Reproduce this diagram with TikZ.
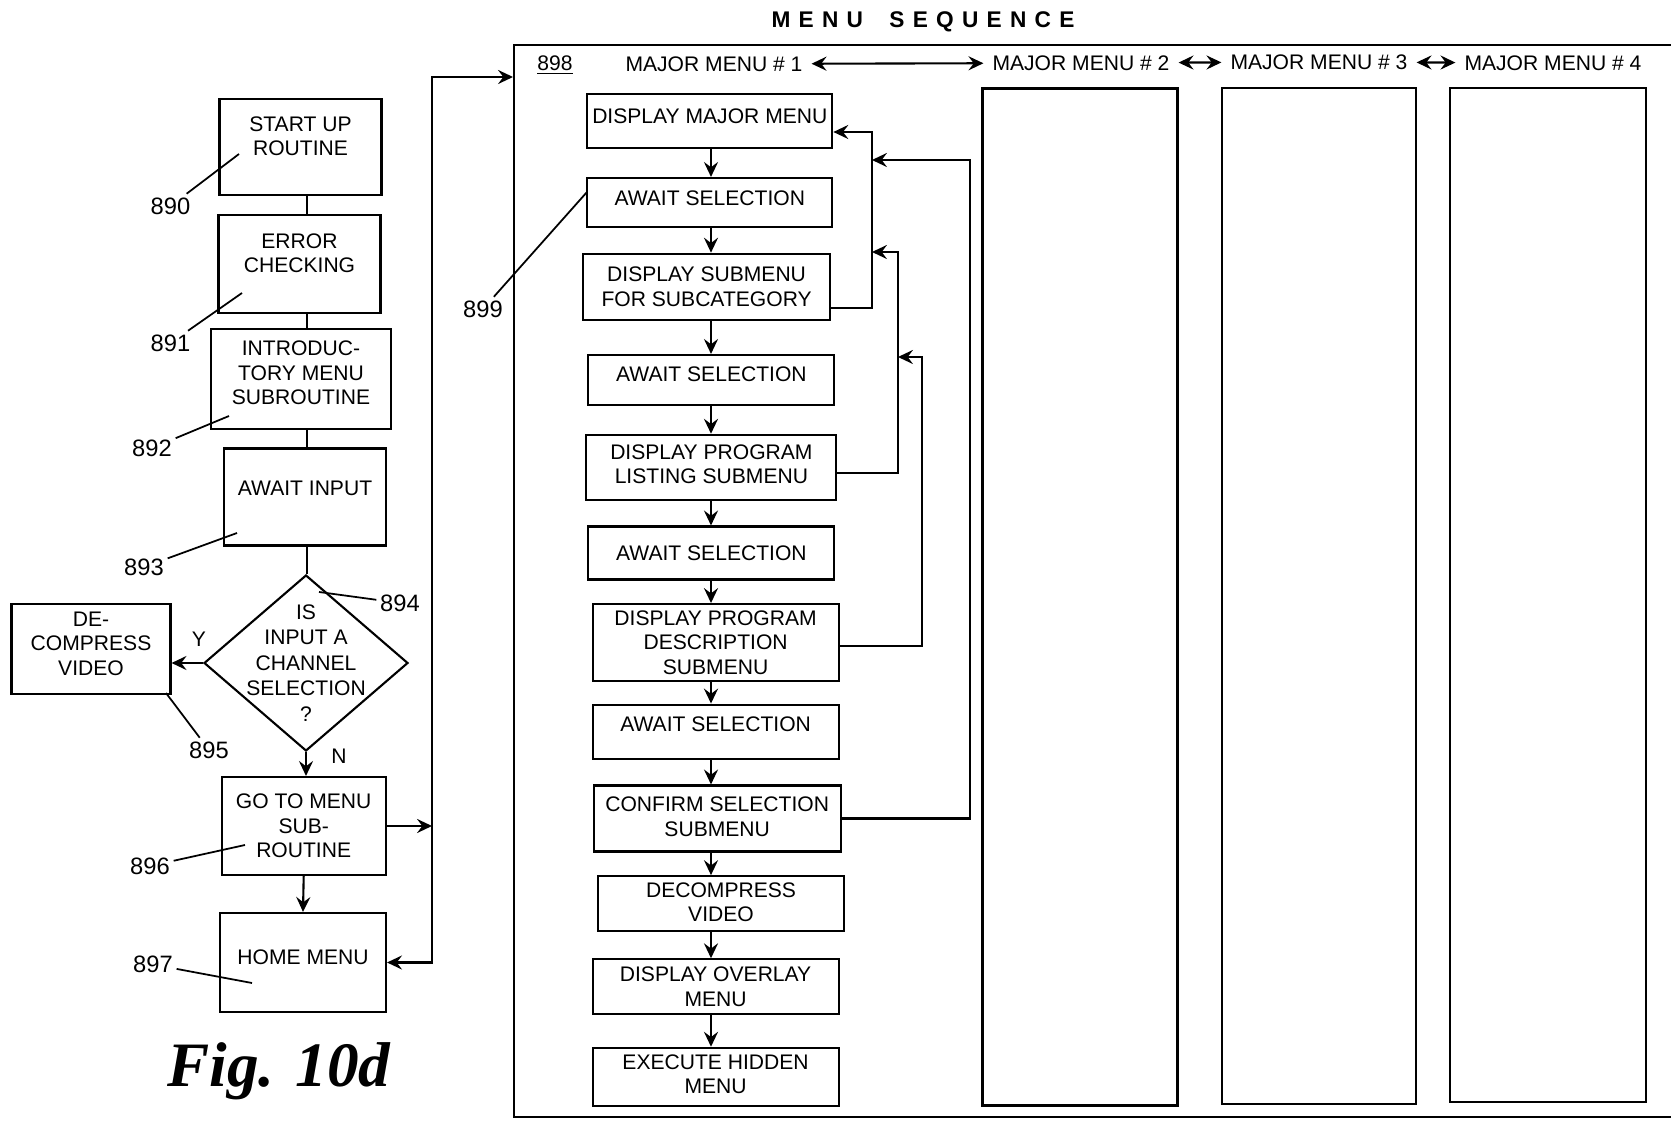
\documentclass[tikz,border=0pt]{standalone}
\usepackage{fontspec}
\setmainfont{Liberation Sans}
\newfontfamily\figfont{Liberation Serif}
\usetikzlibrary{arrows.meta, shapes.geometric, calc}

\begin{document}
\begin{tikzpicture}[
  x=0.02cm, y=-0.02cm,
  every node/.style={font=\fontsize{12}{14}\selectfont, inner sep=0},
  box/.style 2 args={draw, line width=1.2pt, align=center, minimum width=#1*0.02cm, minimum height=#2*0.02cm},
  up/.style={text depth=#1},
  dia/.style={diamond, draw, line width=1.2pt, minimum width=204*0.02cm, minimum height=176*0.02cm, inner sep=0},
  col/.style 2 args={draw, line width=1.2pt, minimum width=#1*0.02cm, minimum height=#2*0.02cm},
  num/.style={font=\fontsize{13.5}{16}\selectfont, inner sep=2pt},
  head/.style={inner sep=5pt},
  title/.style={font=\fontsize{12.9}{15}\selectfont\bfseries},
  wire/.style={line width=1.2pt},
  flow/.style={line width=1.2pt, -{Stealth[length=8.5pt, width=8pt, inset=3pt]}},
  dflow/.style={line width=1.2pt, {Stealth[length=8.5pt, width=8pt, inset=3pt]}-{Stealth[length=8.5pt, width=8pt, inset=3pt]}},
  lead/.style={line width=1pt},
]
  \useasboundingbox (0,0) rectangle (1671,1121);

  % --- left flow chart ---
  \node[box={162}{96}, up=12.5pt] (start) at (300.5,147) {START UP\\ROUTINE};
  \node[box={162}{98}, up=12.5pt] (err) at (299.5,264) {ERROR\\CHECKING};
  \node[box={180}{100}, up=7pt] (intro) at (301,379) {INTRODUC-\\TORY MENU\\SUBROUTINE};
  \node[box={162}{97}, up=10pt] (await) at (305,497) {AWAIT INPUT};
  \node[dia, label={[align=center, font=\fontsize{12}{14.5}\selectfont]center:IS\\INPUT A\\CHANNEL\\SELECTION\\?}] (chan) at (306,663) {};
  \node[box={159}{90}, up=6pt] (decomp) at (91,649) {DE-\\COMPRESS\\VIDEO};
  \node[box={164}{98}] (goto) at (303.7,826) {GO TO MENU\\SUB-\\ROUTINE};
  \node[box={166}{99}, up=6pt] (home) at (303,962.5) {HOME MENU};

  \coordinate (axL) at (307,0);
  \foreach \a/\b in {start/err, err/intro, intro/await, await/chan}
    \draw[wire] (\a.south -| axL) -- (\b.north -| axL);
  \draw[flow] (chan.south) -- (chan.south |- goto.north);
  \draw[flow] (goto.south) -- (home.north);
  \draw[flow] (chan.west) -- (decomp.east |- chan.west);
  \node (yes) at (199,639) {Y};
  \node (no) at (339,756) {N};

  % --- bus to the menu sequence ---
  \coordinate (busTop) at (432,77);
  \coordinate (frameIn) at (513,77);
  \draw[dflow] (home.east) -| (busTop) -- (frameIn);
  \draw[flow] (goto.east) -- (goto.east -| busTop);

  % --- reference numerals ---
  \coordinate (p890) at (239,154);
  \coordinate (p891) at (242,293);
  \coordinate (p892) at (229,416);
  \coordinate (p893) at (237,533);
  \coordinate (p894) at (319,592);
  \coordinate (p895) at (166,693);
  \coordinate (p896) at (245,845);
  \coordinate (p897) at (252,983);
  \coordinate (p899) at (587,192);
  \node[num] (l890) at (170.5,206) {890};
  \node[num] (l891) at (170.5,343) {891};
  \node[num] (l892) at (152,448) {892};
  \node[num] (l893) at (144,567) {893};
  \node[num] (l894) at (400,603) {894};
  \node[num] (l895) at (209,750) {895};
  \node[num] (l896) at (150,866) {896};
  \node[num] (l897) at (153,964.5) {897};
  \node[num] (l899) at (483,309) {899};
  \foreach \n in {890,891,892,893,894,895,896,897,899}
    \draw[lead] (l\n) -- (p\n);

  % --- menu sequence frame and header ---
  \node[title] (ttl) at (923,22) {M\kern4.7pt E\kern4.7pt N\kern4.7pt U\hspace{15pt}S\kern4.7pt E\kern4.7pt Q\kern4.7pt U\kern4.7pt E\kern4.7pt N\kern4.7pt C\kern4.7pt E};
  \coordinate (fTR) at (1671,45);
  \coordinate (fTL) at (513.6,45);
  \coordinate (fBL) at (513.6,1117);
  \coordinate (fBR) at (1671,1117);
  \draw[wire] (fTR) -- (fTL) -- (fBL) -- (fBR);
  \node (n898) at (555,65) {\underline{898}};
  \node[head] (mm1) at (714,64) {MAJOR MENU \# 1};
  \node[head] (mm2) at (1081,63) {MAJOR MENU \# 2};
  \node[head] (mm3) at (1319,62) {MAJOR MENU \# 3};
  \node[head] (mm4) at (1553,63) {MAJOR MENU \# 4};
  \draw[dflow] (mm1) -- (mm2);
  \draw[dflow] (mm2) -- (mm3);
  \draw[dflow] (mm3) -- (mm4);
  \node[col={195}{1017}] (col2) at (1080,597) {};
  \node[col={194}{1016}] (col3) at (1319,596) {};
  \node[col={196}{1014}] (col4) at (1548,595) {};

  % --- major menu # 1 steps ---
  \node[box={245}{54}, up=5.5pt] (dmm) at (709.8,121) {DISPLAY MAJOR MENU};
  \node[box={245}{49}, up=5pt] (as1) at (709.8,202.5) {AWAIT SELECTION};
  \node[box={247}{66}] (dss) at (706.6,286.7) {DISPLAY SUBMENU\\FOR SUBCATEGORY};
  \node[box={246}{50}, up=6.5pt] (as2) at (711.4,380) {AWAIT SELECTION};
  \node[box={250}{65}, up=3.5pt] (dpl) at (711.4,467.3) {DISPLAY PROGRAM\\LISTING SUBMENU};
  \node[box={246}{53}] (as3) at (711.4,553) {AWAIT SELECTION};
  \node[box={246}{77}] (dpd) at (715.6,642.6) {DISPLAY PROGRAM\\DESCRIPTION\\SUBMENU};
  \node[box={246}{54}, up=9pt] (as4) at (715.6,731.6) {AWAIT SELECTION};
  \node[box={247}{66}, up=2pt] (css) at (717.2,818.5) {CONFIRM SELECTION\\SUBMENU};
  \node[box={246}{55}, up=2pt] (dv) at (721,903.7) {DECOMPRESS\\VIDEO};
  \node[box={246}{55}] (dom) at (715.6,986.8) {DISPLAY OVERLAY\\MENU};
  \node[box={246}{58}, up=3pt] (ehm) at (715.6,1076.8) {EXECUTE HIDDEN\\MENU};

  \coordinate (axM) at (711,0);
  \foreach \a/\b in {dmm/as1, as1/dss, dss/as2, as2/dpl, dpl/as3, as3/dpd, dpd/as4, as4/css, css/dv, dv/dom, dom/ehm}
    \draw[flow] (\a.south -| axM) -- (\b.north -| axM);

  % --- return paths ---
  \coordinate (fa0) at (872,308);  \coordinate (fa) at (872,132);
  \coordinate (fb0) at (898,473);  \coordinate (fb) at (898,252);
  \coordinate (fc0) at (922,646);  \coordinate (fc) at (922,357);
  \coordinate (fd0) at (970,818.5);\coordinate (fd) at (970,160);
  \draw[flow] (dss.east |- fa0) -- (fa0) -- (fa) -- (dmm.east |- fa);
  \draw[flow] (dpl.east |- fb0) -- (fb0) -- (fb) -- (fa |- fb);
  \draw[flow] (dpd.east |- fc0) -- (fc0) -- (fc) -- (fb |- fc);
  \draw[flow] (css.east |- fd0) -- (fd0) -- (fd) -- (fa |- fd);

  \node[font=\figfont\fontsize{36}{40}\bfseries\itshape] (fig) at (279,1071) {Fig. 10d};
\end{tikzpicture}
\end{document}
